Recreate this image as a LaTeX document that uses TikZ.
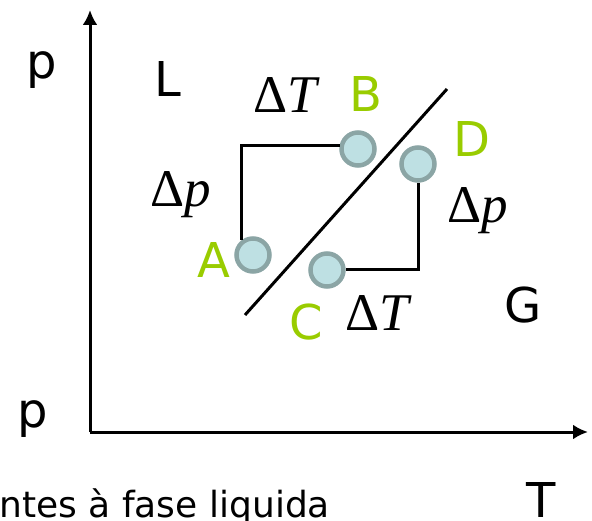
\RequirePackage{fix-cm}
\documentclass[tikz,border=0pt]{standalone}
\usepackage{fontspec}
\setmainfont{DejaVu Sans}
\newfontfamily\tnr{Liberation Serif}
\usetikzlibrary{arrows.meta}
\definecolor{ptgreen}{RGB}{153,204,0}
\definecolor{ptfill}{RGB}{190,224,227}
\definecolor{ptedge}{RGB}{139,165,165}
\newcommand{\dlt}[1]{{\fontsize{53}{53}\tnr Δ\itshape #1}}
\tikzset{
  pt/.style={circle,fill=ptfill,draw=ptedge,line width=4.5pt,minimum size=33pt,inner sep=0pt},
  lab/.style={anchor=base,inner sep=0pt,font=\fontsize{48}{48}\selectfont},
  ptlab/.style={lab,text=ptgreen}
}
\begin{document}
\begin{tikzpicture}[x=1pt,y=-1pt,>={Latex[length=15pt,width=15pt]},line width=3pt]
  \useasboundingbox (0,0) rectangle (592,521);
  \coordinate (O) at (90,432); \coordinate (ptop) at (90,10); \coordinate (Tend) at (588,432);
  \draw[->] (O)--(ptop); \draw[->] (O)--(Tend);
  % coexistence line
  \coordinate (s1) at (245,315); \coordinate (s2) at (447,89);
  \draw (s1)--(s2);
  \node[pt] (A) at (253,255) {}; \node[pt] (B) at (358,149) {};
  \node[pt] (C) at (327,270) {}; \node[pt] (D) at (418,164) {};
  \draw (A.128) |- (B.170); \draw (D) |- (C);
  \node[ptlab] (la) at (214,278) {A}; \node[ptlab] (lb) at (366,112) {B};
  \node[ptlab] (lc) at (306,340) {C}; \node[ptlab] (ld) at (472,157) {D};
  \node[lab] (dT1) at (285,113) {\dlt{T}}; \node[lab] (dp1) at (181,207) {\dlt{p}};
  \node[lab] (dT2) at (377,331) {\dlt{T}}; \node[lab] (dp2) at (478,223) {\dlt{p}};
  \node[lab] (p1) at (42,79) {p}; \node[lab] (p2) at (33,428) {p};
  \node[lab] (L) at (168,97) {L}; \node[lab] (G) at (523,323) {G};
  \node[lab] (T) at (541,517) {T};
  \node[anchor=base west,inner sep=0pt,font=\fontsize{36}{36}\selectfont] (cap) at (-2,517) {ntes à fase liquida};
\end{tikzpicture}
\end{document}
